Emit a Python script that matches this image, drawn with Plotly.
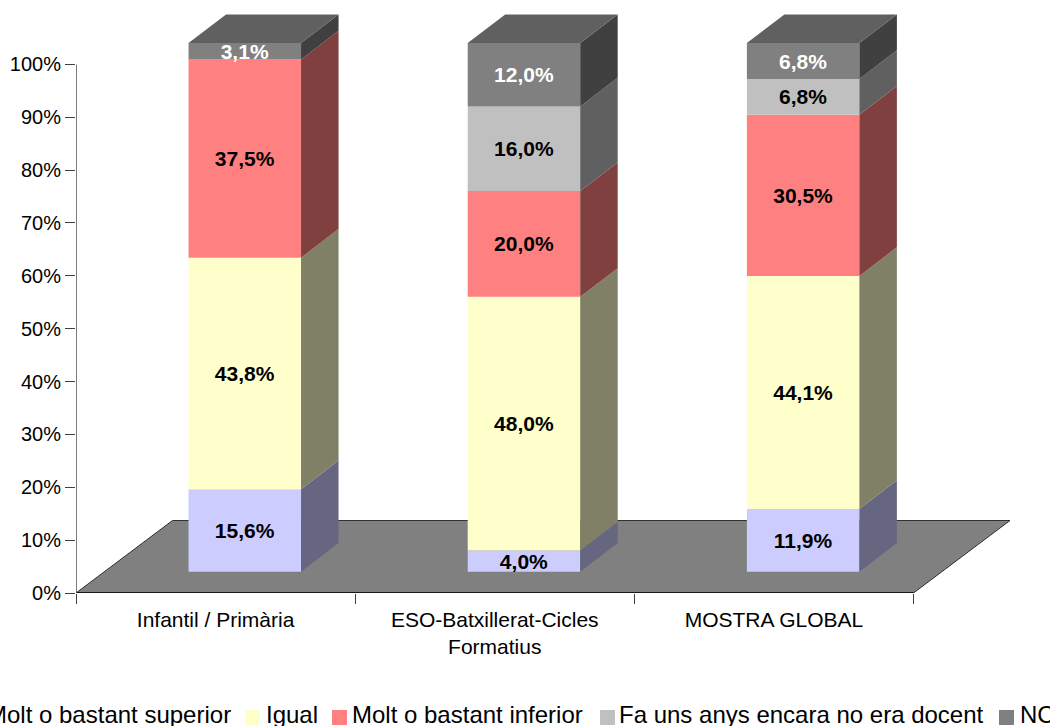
import plotly.graph_objects as go

categories = ["Infantil / Primària", "ESO-Batxillerat-Cicles<br>Formatius", "MOSTRA GLOBAL"]
series_names = ["Molt o bastant superior", "Igual", "Molt o bastant inferior",
                "Fa uns anys encara no era docent", "NC"]
superior = [15.6, 4.0, 11.86]
igual = [43.8, 48.0, 44.07]
inferior = [37.5, 20.0, 30.51]
fa_uns_anys = [0.0, 16.0, 6.78]
nc = [3.1, 12.0, 6.78]
y_ticks = [0, 10, 20, 30, 40, 50, 60, 70, 80, 90, 100]

series = [superior, igual, inferior, fa_uns_anys, nc]
front_colors = ["#CCCCFF", "#FFFFCC", "#FF8080", "#C0C0C0", "#808080"]
side_colors = ["#666680", "#808066", "#804040", "#606060", "#404040"]
top_color = "#606060"
text_colors = ["black", "black", "black", "black", "white"]
FONT = "Liberation Sans, Arial, sans-serif"

# layout geometry (pixels)
W, H = 1050, 726
PL, PR, PT, PB = 76, 1030, 4, 593
UX = 279.17       # pixels per category
UY = 5.286        # pixels per percent
bar_w = 112.5 / UX
bar_shift = 29.2 / UX     # bars stand in the middle of the floor depth
bar_lift = 21.3 / UY
depth_x = 37.5 / UX
depth_y = 28.7 / UY
floor_x = 96.5 / UX
floor_y = 72.5 / UY
x0 = -0.5
xmax = x0 + (PR - PL) / UX
ymax = (PB - PT) / UY


def px(p):
    return (p - PL) / (PR - PL)


def py(p):
    return (PB - p) / (PB - PT)


fig = go.Figure()

# cumulative bases
bases = []
run = [0.0] * len(categories)
for s in series:
    bases.append(list(run))
    run = [a + b for a, b in zip(run, s)]

centers = [i + bar_shift for i in range(len(categories))]

for k, s in enumerate(series):
    fig.add_trace(go.Bar(
        x=centers, y=s, base=[b + bar_lift for b in bases[k]], width=bar_w,
        name=series_names[k], marker=dict(color=front_colors[k], line=dict(width=0)),
        text=[f"{v:.1f}%".replace(".", ",") if v > 0 else "" for v in s],
        textposition="inside", insidetextanchor="middle", textangle=0,
        constraintext="none", cliponaxis=False,
        textfont=dict(family=FONT, size=21, color=text_colors[k], weight="bold"),
        showlegend=False, hoverinfo="skip",
    ))

# side faces
for k, s in enumerate(series):
    xs, ys = [], []
    for i, v in enumerate(s):
        if v <= 0:
            continue
        r = centers[i] + bar_w / 2
        lo = bases[k][i] + bar_lift
        hi = lo + v
        xs += [r, r + depth_x, r + depth_x, r, r, None]
        ys += [lo, lo + depth_y, hi + depth_y, hi, lo, None]
    fig.add_trace(go.Scatter(x=xs, y=ys, mode="lines", fill="toself", fillcolor=side_colors[k],
                             line=dict(width=0), showlegend=False, hoverinfo="skip", cliponaxis=False))

# top faces
xs, ys = [], []
for i in range(len(categories)):
    l, r = centers[i] - bar_w / 2, centers[i] + bar_w / 2
    t = run[i] + bar_lift
    xs += [l, r, r + depth_x, l + depth_x, l, None]
    ys += [t, t, t + depth_y, t + depth_y, t, None]
fig.add_trace(go.Scatter(x=xs, y=ys, mode="lines", fill="toself", fillcolor=top_color,
                         line=dict(width=0), showlegend=False, hoverinfo="skip", cliponaxis=False))

# axis lines
x_end = x0 + len(categories)
fig.add_trace(go.Scatter(x=[x0, x_end], y=[0, 0], mode="lines", line=dict(color="black", width=1.5),
                         showlegend=False, hoverinfo="skip", cliponaxis=False))
fig.add_trace(go.Scatter(x=[x0, x0], y=[y_ticks[0], y_ticks[-1]], mode="lines",
                         line=dict(color="#505050", width=1.5),
                         showlegend=False, hoverinfo="skip", cliponaxis=False))

shapes = [dict(
    type="path", layer="below", xref="x", yref="y",
    path=f"M {x0} 0 L {x_end} 0 L {x_end + floor_x} {floor_y} L {x0 + floor_x} {floor_y} Z",
    fillcolor="#808080", line=dict(color="#303030", width=1),
)]

# legend drawn to run past both window edges, as in the reference
legend_swatches = [None, 245, 332, 600, 999]
legend_text_x = [233, 264, 350, 617, 1018]
legend_anchor = ["right", "left", "left", "left", "left"]
annotations = []
LEG_Y = 714.5
for k, name in enumerate(series_names):
    annotations.append(dict(
        text=name, xref="paper", yref="paper", x=px(legend_text_x[k]), y=py(LEG_Y),
        xanchor=legend_anchor[k], yanchor="middle", showarrow=False, xshift=0,
        font=dict(family=FONT, size=24, color="black"),
    ))
    if legend_swatches[k] is not None:
        shapes.append(dict(
            type="rect", xref="paper", yref="paper", layer="above",
            x0=px(legend_swatches[k]), x1=px(legend_swatches[k] + 15),
            y0=py(725), y1=py(710), fillcolor=front_colors[k], line=dict(width=0),
        ))

fig.update_layout(
    width=W, height=H, margin=dict(l=PL, r=W - PR, t=PT, b=H - PB, autoexpand=False),
    paper_bgcolor="white", plot_bgcolor="white", barmode="overlay",
    showlegend=False, shapes=shapes, annotations=annotations,
    font=dict(family=FONT, color="black"),
    xaxis=dict(range=[x0, xmax], tickmode="array", tickvals=list(range(len(categories))),
               ticktext=categories, ticks="", showgrid=False, zeroline=False, showline=False,
               tickfont=dict(family=FONT, size=21, color="black"), ticklabelstandoff=12,
               minor=dict(tickmode="array", tickvals=[x0 + i for i in range(len(categories) + 1)],
                          ticks="outside", ticklen=10, tickwidth=1, tickcolor="#404040", showgrid=False)),
    yaxis=dict(range=[0, ymax], tickmode="array", tickvals=y_ticks,
               ticktext=[f"{v}%" for v in y_ticks], ticks="outside", ticklen=10, tickwidth=1,
               tickcolor="#404040", showgrid=False, zeroline=False, showline=False,
               tickfont=dict(family=FONT, size=20, color="black")),
)

fig.write_html("out.html", config=dict(displayModeBar=False),
               post_script="document.body.style.margin='0';document.body.style.overflow='hidden';")
